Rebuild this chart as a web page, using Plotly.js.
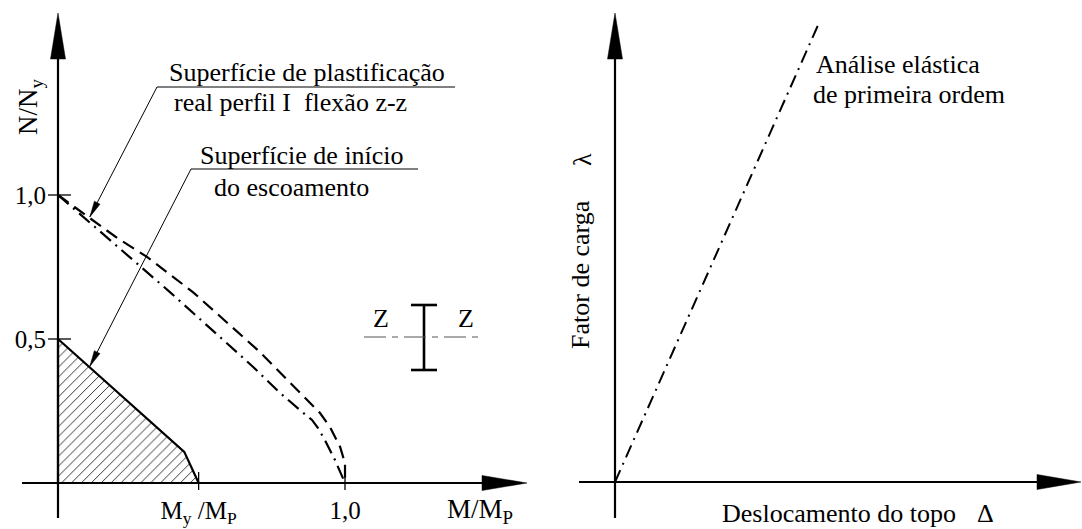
<!DOCTYPE html>
<html>
<head>
<meta charset="utf-8">
<script src="https://cdn.plot.ly/plotly-3.0.1.min.js"></script>
<style>
  html, body { margin: 0; padding: 0; background: #fff; }
  #chart { width: 1082px; height: 529px; }
</style>
</head>
<body>
<div id="chart"></div>
<script>
// ---- Interaction diagram of an I-section bent about z-z (normalised M/Mp, N/Ny) ----
// Real plastification surface
const plastM = [0, 0.049, 0.206, 0.31, 0.47, 0.70, 0.913, 0.948, 0.983, 1.0, 1.0];
const plastN = [1.0, 0.965, 0.851, 0.785, 0.663, 0.458, 0.243, 0.194, 0.125, 0.069, 0];
// Dash-dot interaction curve
const dashDotM = [0, 0.29, 0.39, 0.68, 0.77, 0.843, 0.885, 0.906, 0.930, 0.965, 0.99, 1.0];
const dashDotN = [1.0, 0.747, 0.663, 0.403, 0.316, 0.253, 0.219, 0.191, 0.149, 0.080, 0.025, 0];
// Onset of yielding (hatched region)
const yieldM = [0, 0.44, 0.49, 0, 0];
const yieldN = [0.5, 0.108, 0, 0, 0.5];
// Tick values and labels
const nTickVals = [0.5, 1.0];
const nTickText = ['0,5', '1,0'];
const mTickVals = [0.49, 1.0];
const mTickText = ['M<sub>y</sub> /M<sub>P</sub>', '1,0'];
// Pointer targets on the curves (M/Mp, N/Ny)
const plastPointer = [0.111, 0.924];
const yieldPointer = [0.111, 0.405];

// ---- Load factor vs. top displacement (first-order elastic analysis) ----
const elasticDelta = [0, 1];
const elasticLambda = [0, 1];

// ---- page geometry ----
const W = 1082, H = 529;
const SERIF = 'Liberation Serif, Times New Roman, serif';
const left = { ox: 58, oy: 483, sx: 287, sy: 288 };   // origin & scale in px
const right = { ox: 615, oy: 482, sx: 204, sy: 459 };
const SPLIT = 541;

const PX = x => x / W;
const PY = y => 1 - y / H;
const leftPx = (m, n) => [left.ox + left.sx * m, left.oy - left.sy * n];

function seg(x0, y0, x1, y1, width, color, dash) {
  return { type: 'line', xref: 'paper', yref: 'paper', layer: 'above',
    x0: PX(x0), y0: PY(y0), x1: PX(x1), y1: PY(y1),
    line: { color: color || '#000', width: width, dash: dash || 'solid' } };
}
function head(tip, from, len, half) {
  const dx = tip[0] - from[0], dy = tip[1] - from[1];
  const d = Math.hypot(dx, dy), ux = dx / d, uy = dy / d;
  const bx = tip[0] - ux * len, by = tip[1] - uy * len;
  const a = [bx - uy * half, by + ux * half], b = [bx + uy * half, by - ux * half];
  return { type: 'path', xref: 'paper', yref: 'paper', layer: 'above',
    path: `M${PX(tip[0])},${PY(tip[1])} L${PX(a[0])},${PY(a[1])} L${PX(b[0])},${PY(b[1])} Z`,
    fillcolor: '#000', line: { color: '#000', width: 0.5 } };
}
function label(text, x, y, size, opts) {
  return Object.assign({ text: text, xref: 'paper', yref: 'paper', x: PX(x), y: PY(y),
    xanchor: 'center', yanchor: 'middle', showarrow: false,
    font: { family: SERIF, size: size, color: '#000' } }, opts || {});
}

const traces = [
  { x: yieldM, y: yieldN, xaxis: 'x', yaxis: 'y', mode: 'lines', fill: 'toself',
    fillcolor: 'rgba(255,255,255,0)',
    fillpattern: { shape: '/', size: 7, solidity: 0.13, fgcolor: '#222', bgcolor: 'rgba(255,255,255,0)' },
    line: { color: '#000', width: 2.2 }, hoverinfo: 'skip', name: 'início do escoamento' },
  { x: dashDotM, y: dashDotN, xaxis: 'x', yaxis: 'y', mode: 'lines',
    line: { color: '#000', width: 2.2, dash: '14px,6px,2px,6px' }, name: 'traço-ponto' },
  { x: plastM, y: plastN, xaxis: 'x', yaxis: 'y', mode: 'lines',
    line: { color: '#000', width: 2.2, dash: '13px,7px' }, name: 'plastificação' },
  { x: elasticDelta, y: elasticLambda, xaxis: 'x2', yaxis: 'y2', mode: 'lines',
    line: { color: '#000', width: 2, dash: '13px,6px,2px,6px' }, name: 'elástica 1ª ordem' }
];

const p1 = leftPx(plastPointer[0], plastPointer[1]);
const p2 = leftPx(yieldPointer[0], yieldPointer[1]);
const tail1 = [157, 87], tail2 = [191, 169];

const shapes = [
  // left axes
  seg(left.ox, 518, left.ox, 58, 2.2),
  seg(22, left.oy, 484, left.oy, 2.2),
  head([left.ox, 13], [left.ox, 518], 46, 7.5),
  head([527, left.oy], [22, left.oy], 45, 7.5),
  // tick marks
  ...nTickVals.map(v => seg(left.ox - 10, leftPx(0, v)[1], left.ox + 13, leftPx(0, v)[1], 1.3)),
  ...mTickVals.map(v => seg(leftPx(v, 0)[0], left.oy - 11, leftPx(v, 0)[0], left.oy + 7, 1.3)),
  // right axes
  seg(right.ox, 518, right.ox, 58, 2.2),
  seg(579, right.oy, 1040, right.oy, 2.2),
  head([right.ox, 13], [right.ox, 518], 46, 7.5),
  head([1081, right.oy], [579, right.oy], 44, 7.5),
  // pointers with underlines
  seg(tail1[0], tail1[1], 455, tail1[1], 1),
  seg(tail1[0], tail1[1], p1[0], p1[1], 1),
  head(p1, tail1, 16, 3.2),
  seg(tail2[0], tail2[1], 418, tail2[1], 1),
  seg(tail2[0], tail2[1], p2[0], p2[1], 1),
  head(p2, tail2, 16, 3.2),
  // section sketch: I profile with z-z axis
  seg(424, 305, 424, 370, 2.6),
  seg(411, 305, 437, 305, 2.6),
  seg(411, 370, 437, 370, 2.6),
  seg(364, 337, 478, 337, 1, '#555', '22px,6px,6px,6px')
];

const annotations = [
  label('Superfície de plastificação', 307, 73, 26),
  label('real perfil I\u00a0\u00a0flexão z-z', 290, 103, 26),
  label('Superfície de início', 302, 155, 26),
  label('do escoamento', 291, 187, 26),
  label('N/N<sub>y</sub>', 30, 107, 27, { textangle: -90 }),
  label('M/M<sub>P</sub>', 480, 511, 27),
  label('Z', 381, 318, 26),
  label('Z', 466, 318, 26),
  label('Análise elástica', 814, 65, 26, { xanchor: 'left' }),
  label('de primeira ordem', 811, 95, 26, { xanchor: 'left' }),
  label('Fator de carga', 580, 275, 26, { textangle: -90 }),
  label('λ', 582, 160, 26, { textangle: -90 }),
  label('Deslocamento do topo', 839, 513, 26),
  label('Δ', 985, 513, 26)
];

const hidden = { showgrid: false, zeroline: false, showline: false, showticklabels: false, ticks: '', fixedrange: true };

const layout = {
  width: W, height: H,
  margin: { l: 0, r: 0, t: 0, b: 0, pad: 0 },
  paper_bgcolor: '#fff', plot_bgcolor: 'rgba(0,0,0,0)',
  showlegend: false,
  font: { family: SERIF, size: 25, color: '#000' },
  xaxis: Object.assign({}, hidden, {
    domain: [0, SPLIT / W], range: [(0 - left.ox) / left.sx, (SPLIT - left.ox) / left.sx],
    anchor: 'free', position: 1 - left.oy / H,
    showticklabels: true, tickmode: 'array', tickvals: mTickVals, ticktext: mTickText,
    ticklabelstandoff: 10, tickfont: { family: SERIF, size: 25, color: '#000' } }),
  yaxis: Object.assign({}, hidden, {
    domain: [0, 1], range: [(left.oy - H) / left.sy, left.oy / left.sy],
    anchor: 'free', position: left.ox / W,
    showticklabels: true, tickmode: 'array', tickvals: nTickVals, ticktext: nTickText,
    ticklabelstandoff: 12, tickfont: { family: SERIF, size: 25, color: '#000' } }),
  xaxis2: Object.assign({}, hidden, {
    domain: [SPLIT / W, 1], range: [(SPLIT - right.ox) / right.sx, (W - right.ox) / right.sx], anchor: 'y2' }),
  yaxis2: Object.assign({}, hidden, {
    domain: [0, 1], range: [(right.oy - H) / right.sy, right.oy / right.sy], anchor: 'x2' }),
  shapes: shapes,
  annotations: annotations
};

Plotly.newPlot('chart', traces, layout, { staticPlot: true, displayModeBar: false });
</script>
</body>
</html>
